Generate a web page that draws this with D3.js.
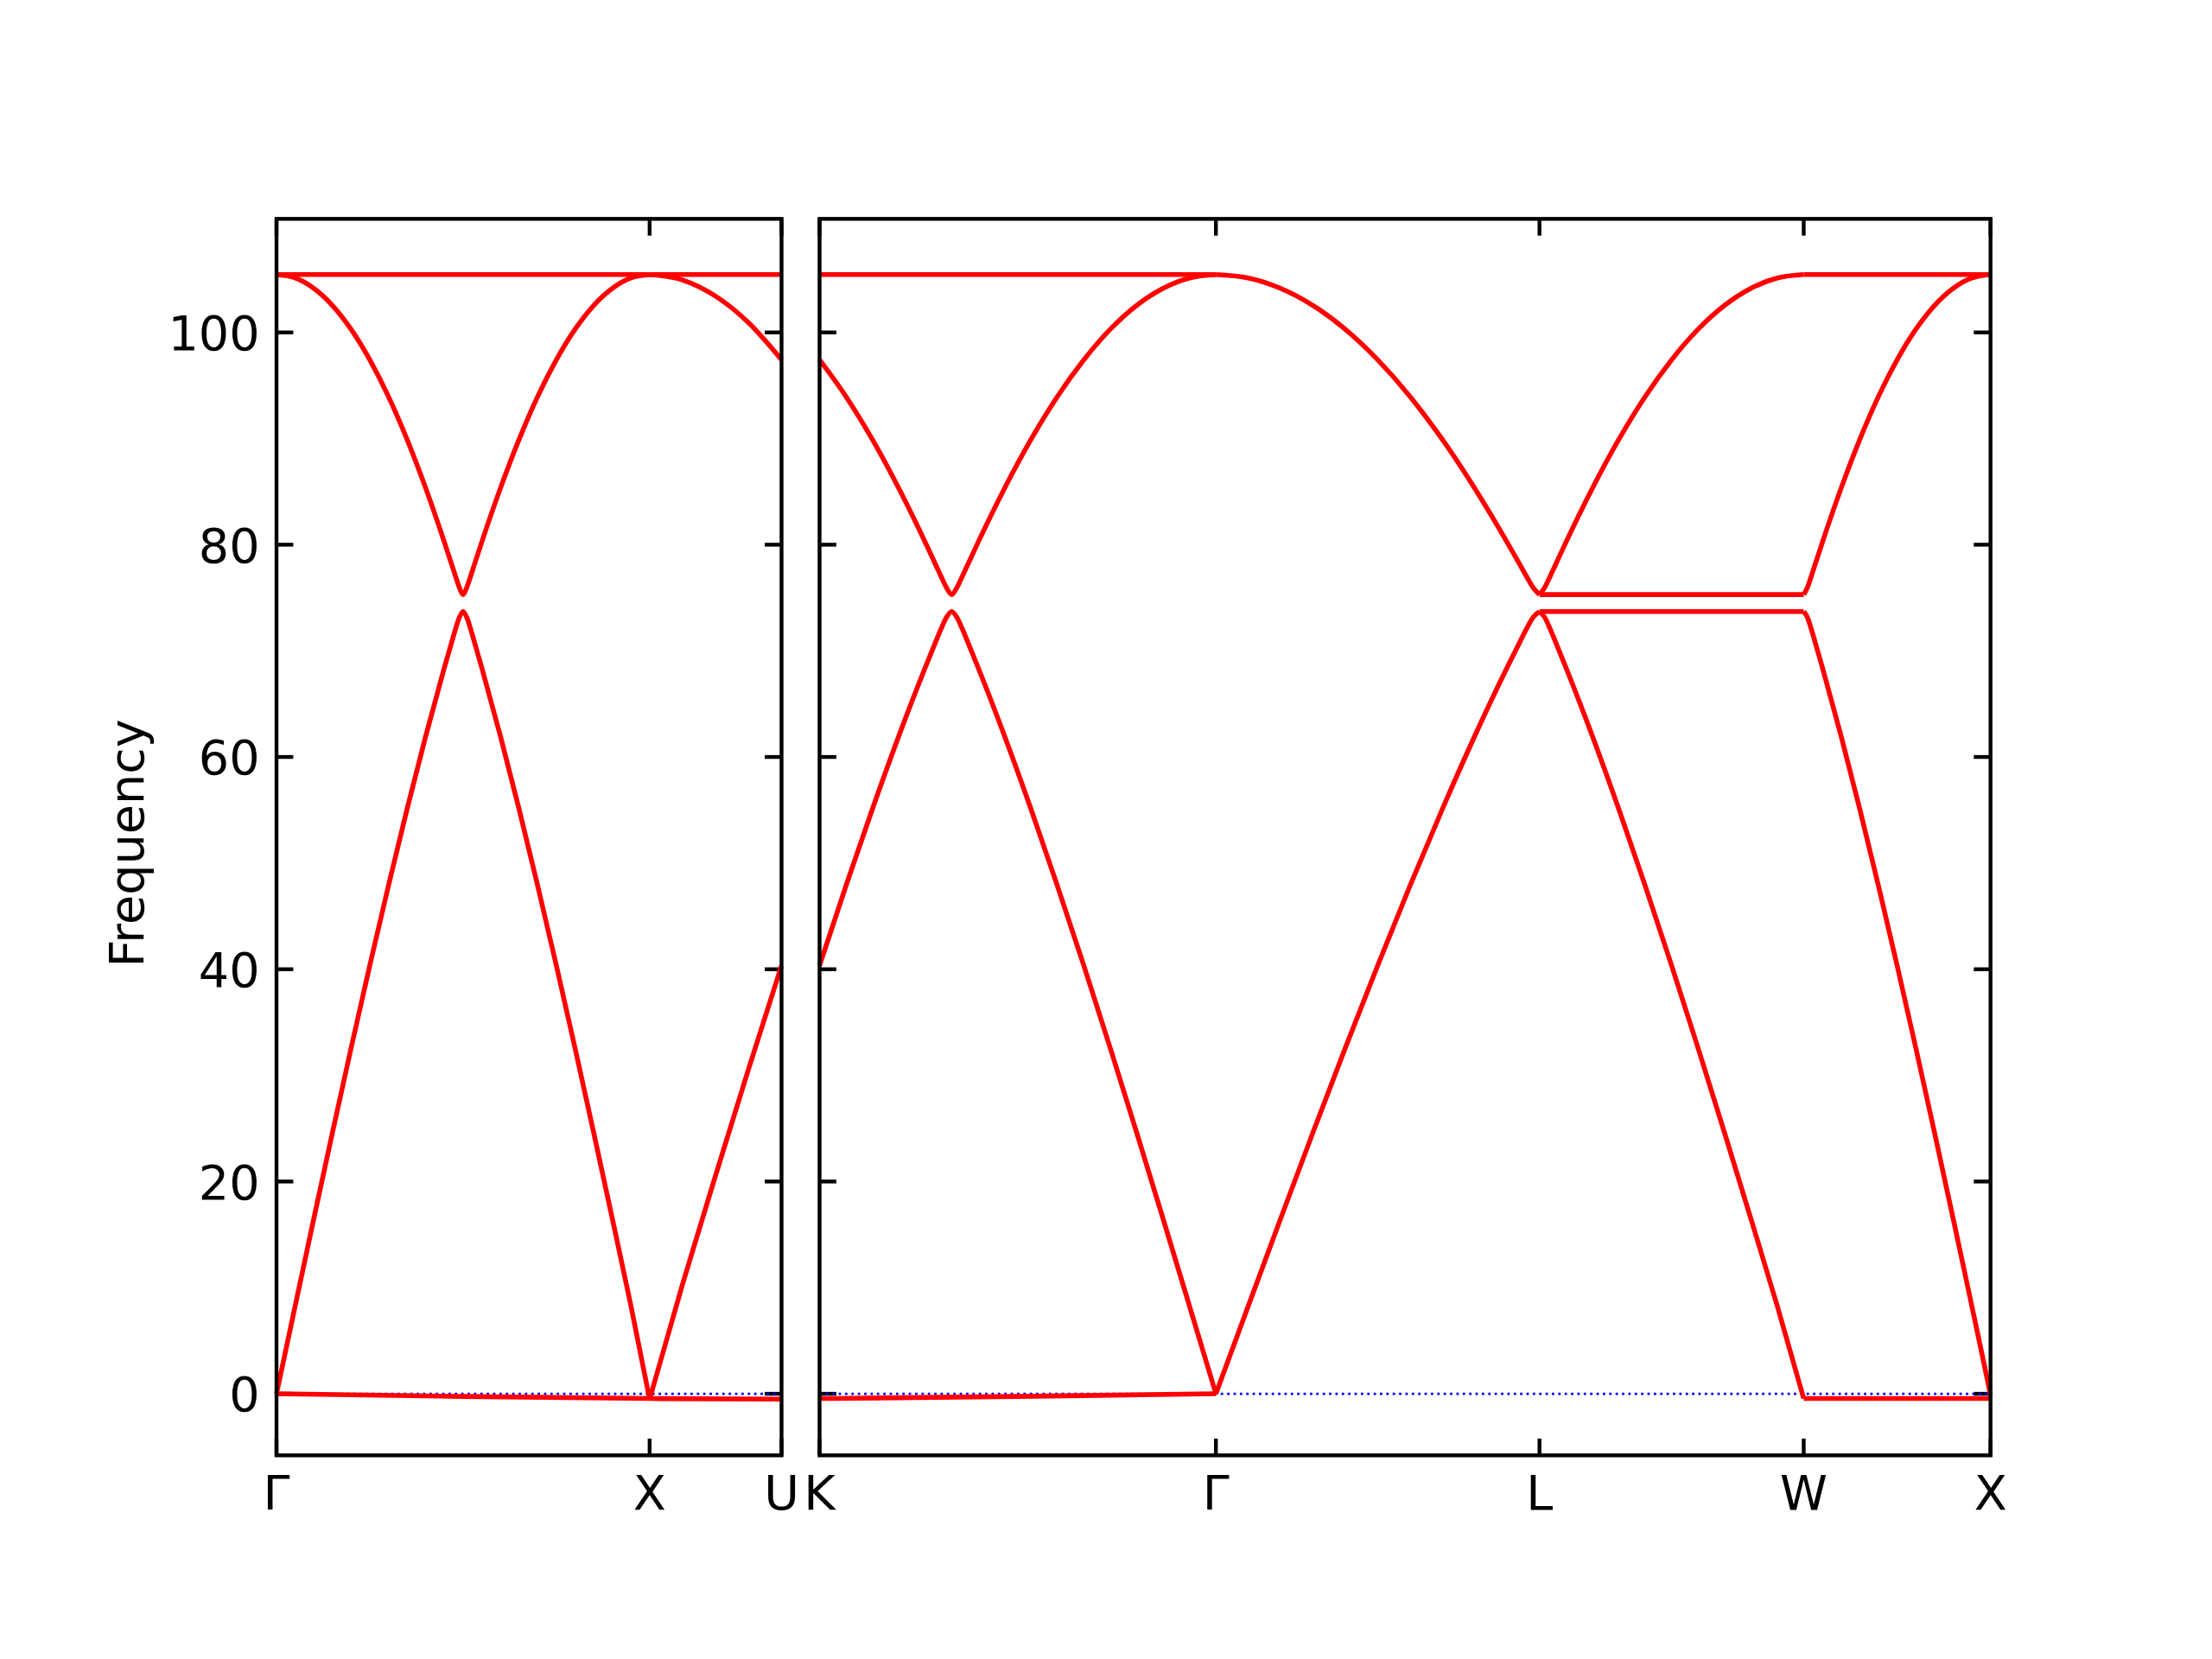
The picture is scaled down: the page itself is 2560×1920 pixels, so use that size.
<!DOCTYPE html>
<html>
<head>
<meta charset="utf-8">
<script src="https://cdn.jsdelivr.net/npm/d3@7"></script>
<style>
  html, body { margin: 0; padding: 0; background: #ffffff; }
  svg { display: block; }
</style>
</head>
<body>
<svg id="chart" width="2560" height="1920"></svg>
<script>
// ---------------- data (path coordinate k, frequency) ----------------
const yTicks = [0, 20, 40, 60, 80, 100];
const yLabel = "Frequency";

const leftTicks = [0, 1.0, 1.35355];
const leftLabels = ["Γ", "X", "U"];
const rightTicks = [0, 1.06066, 1.92669, 2.63380, 3.13380];
const rightLabels = ["K", "Γ", "L", "W", "X"];

// Γ – X
const gxK = [0, .05, .1, .15, .2, .25, .3, .35, .4, .45, .47, .48, .49, .5, .51, .52, .53, .55, .6, .65, .7, .75, .8, .85, .9, .95, 1];
const gxUpper = [105.45, 105.13, 104.15, 102.54, 100.29, 97.42, 93.96, 89.91, 85.31, 80.23, 78.08, 77.0, 75.97, 75.3, 75.97, 77.0, 78.08, 80.23, 85.31, 89.91, 93.96, 97.42, 100.29, 102.54, 104.15, 105.13, 105.45];
const gxLower = [0, 8.27, 16.50, 24.62, 32.59, 40.35, 47.87, 55.10, 61.98, 68.43, 70.88, 72.08, 73.14, 73.7, 73.14, 72.08, 70.88, 68.43, 61.98, 55.10, 47.87, 40.35, 32.59, 24.62, 16.50, 8.27, -0.5];
const gxTop = [[0, 105.45], [1, 105.45]];
const gxBottom = [[0, 0], [0.5, -0.25], [1, -0.45]];

// X – U
const xuK = [1, 1.0884, 1.1768, 1.2652, 1.35355];
const xuUpper = [105.45, 104.94, 103.42, 100.91, 97.42];
const xuLower = [-0.5, 10.34, 20.57, 30.61, 40.35];
const xuTop = [[1, 105.45], [1.35355, 105.45]];
const xuBottom = [[1, -0.45], [1.35355, -0.5]];

// K – Γ
const kgK = [0, 0.07071, 0.14142, 0.21213, 0.28284, 0.31113, 0.32527, 0.33941, 0.35355, 0.36770, 0.38184, 0.39598, 0.42426, 0.49497, 0.56569, 0.63640, 0.70711, 0.77782, 0.84853, 0.91924, 0.98995, 1.06066];
const kgUpper = [97.42, 93.96, 89.91, 85.31, 80.23, 78.08, 77.0, 75.97, 75.3, 75.97, 77.0, 78.08, 80.23, 85.31, 89.91, 93.96, 97.42, 100.29, 102.54, 104.15, 105.13, 105.45];
const kgLower = [40.35, 47.87, 55.10, 61.98, 68.43, 70.88, 72.08, 73.14, 73.7, 73.14, 72.08, 70.88, 68.43, 61.98, 55.10, 47.87, 40.35, 32.59, 24.62, 16.50, 8.27, 0];
const kgTop = [[0, 105.45], [1.06066, 105.45]];
const kgBottom = [[0, -0.45], [0.53, -0.25], [1.06066, 0]];

// Γ – L
const glK = [1.06066, 1.14726, 1.23386, 1.32046, 1.40706, 1.49366, 1.58026, 1.66686, 1.75346, 1.84006, 1.87476, 1.89206, 1.90936, 1.92669];
const glUpper = [105.45, 105.13, 104.15, 102.54, 100.29, 97.42, 93.96, 89.91, 85.31, 80.23, 78.08, 77.0, 75.97, 75.3];
const glLower = [0, 8.27, 16.50, 24.62, 32.59, 40.35, 47.87, 55.10, 61.98, 68.43, 70.88, 72.08, 73.14, 73.7];

// L – W
const lwK = [1.92669, 1.94083, 1.95497, 1.96912, 1.99740, 2.06811, 2.13882, 2.20953, 2.28024, 2.35095, 2.42166, 2.49238, 2.56309, 2.63380];
const lwRise = [75.3, 75.97, 77.0, 78.08, 80.23, 85.31, 89.91, 93.96, 97.42, 100.29, 102.54, 104.15, 105.13, 105.45];
const lwFall = [73.7, 73.14, 72.08, 70.88, 68.43, 61.98, 55.10, 47.87, 40.35, 32.59, 24.62, 16.50, 8.27, -0.45];
const lwFlatUp = [[1.92669, 75.3], [2.63380, 75.3]];
const lwFlatLow = [[1.92669, 73.7], [2.63380, 73.7]];

// W – X
const wxK = [2.6338, 2.6438, 2.6538, 2.6638, 2.6838, 2.7338, 2.7838, 2.8338, 2.8838, 2.9338, 2.9838, 3.0338, 3.0838, 3.1338];
const wxRise = [75.3, 75.97, 77.0, 78.08, 80.23, 85.31, 89.91, 93.96, 97.42, 100.29, 102.54, 104.15, 105.13, 105.45];
const wxFall = [73.7, 73.14, 72.08, 70.88, 68.43, 61.98, 55.10, 47.87, 40.35, 32.59, 24.62, 16.50, 8.27, -0.1];
const wxTop = [[2.6338, 105.45], [3.1338, 105.45]];
const wxBottom = [[2.6338, -0.45], [3.1338, -0.45]];

// ---------------- drawing ----------------
const zip = (ks, vs) => ks.map((k, i) => [k, vs[i]]);

const leftBands = [gxTop, zip(gxK, gxUpper), zip(gxK, gxLower), gxBottom,
                   xuTop, zip(xuK, xuUpper), zip(xuK, xuLower), xuBottom];
const rightBands = [kgTop, zip(kgK, kgUpper), zip(kgK, kgLower), kgBottom,
                    zip(glK, glUpper), zip(glK, glLower),
                    zip(lwK, lwRise), zip(lwK, lwFall), lwFlatUp, lwFlatLow,
                    zip(wxK, wxRise), zip(wxK, wxFall), wxTop, wxBottom];

const axTop = 253.3, axBottom = 1684.3;
const yScale = d3.scaleLinear().domain([-5.8, 110.7]).range([axBottom, axTop]);

const panels = [
  { x0: 320, x1: 904.5, domain: [0, 1.35355], ticks: leftTicks, labels: leftLabels, bands: leftBands, yLabels: true },
  { x0: 948.5, x1: 2303.7, domain: [0, 3.13380], ticks: rightTicks, labels: rightLabels, bands: rightBands, yLabels: false }
];

const svg = d3.select("#chart");
svg.append("rect").attr("width", 2560).attr("height", 1920).attr("fill", "#ffffff");

const FONT = "DejaVu Sans";
const FS = 55.6;
const TICK = 19.4;
const LW = 4.4;

panels.forEach(p => {
  const xScale = d3.scaleLinear().domain(p.domain).range([p.x0, p.x1]);
  const g = svg.append("g");

  // y ticks (both sides, inward)
  yTicks.forEach(v => {
    const yy = yScale(v);
    g.append("line").attr("x1", p.x0).attr("x2", p.x0 + TICK).attr("y1", yy).attr("y2", yy)
      .attr("stroke", "#000").attr("stroke-width", LW);
    g.append("line").attr("x1", p.x1 - TICK).attr("x2", p.x1).attr("y1", yy).attr("y2", yy)
      .attr("stroke", "#000").attr("stroke-width", LW);
  });
  // x ticks (top & bottom, inward)
  p.ticks.forEach(k => {
    const xx = xScale(k);
    g.append("line").attr("x1", xx).attr("x2", xx).attr("y1", axBottom).attr("y2", axBottom - TICK)
      .attr("stroke", "#000").attr("stroke-width", LW);
    g.append("line").attr("x1", xx).attr("x2", xx).attr("y1", axTop).attr("y2", axTop + TICK)
      .attr("stroke", "#000").attr("stroke-width", LW);
  });

  // zero line (blue dotted)
  g.append("line").attr("x1", p.x0).attr("x2", p.x1).attr("y1", yScale(0)).attr("y2", yScale(0))
    .attr("stroke", "#0000ff").attr("stroke-width", 2.78)
    .attr("stroke-dasharray", "2.78 4.59");

  // bands
  const line = d3.line().x(d => xScale(d[0])).y(d => yScale(d[1])).curve(d3.curveMonotoneX);
  p.bands.forEach(b => {
    g.append("path").attr("d", line(b)).attr("fill", "none")
      .attr("stroke", "#ff0000").attr("stroke-width", 5.56)
      .attr("stroke-linejoin", "round").attr("stroke-linecap", "butt");
  });

  // spines
  g.append("rect").attr("x", p.x0).attr("y", axTop).attr("width", p.x1 - p.x0).attr("height", axBottom - axTop)
    .attr("fill", "none").attr("stroke", "#000").attr("stroke-width", LW).attr("stroke-linejoin", "miter");

  // x tick labels
  p.ticks.forEach((k, i) => {
    g.append("text").attr("x", xScale(k)).attr("y", 1747)
      .attr("text-anchor", "middle").attr("font-family", FONT).attr("font-size", FS)
      .attr("fill", "#000").text(p.labels[i]);
  });

  // y tick labels
  if (p.yLabels) {
    yTicks.forEach(v => {
      g.append("text").attr("x", p.x0 - 19.4).attr("y", yScale(v) + 20.2)
        .attr("text-anchor", "end").attr("font-family", FONT).attr("font-size", FS)
        .attr("fill", "#000").text(v);
    });
  }
});

// y axis label
svg.append("text")
  .attr("transform", "translate(165.5, 976) rotate(-90)")
  .attr("text-anchor", "middle").attr("font-family", FONT).attr("font-size", FS)
  .attr("fill", "#000").text(yLabel);
</script>
</body>
</html>
